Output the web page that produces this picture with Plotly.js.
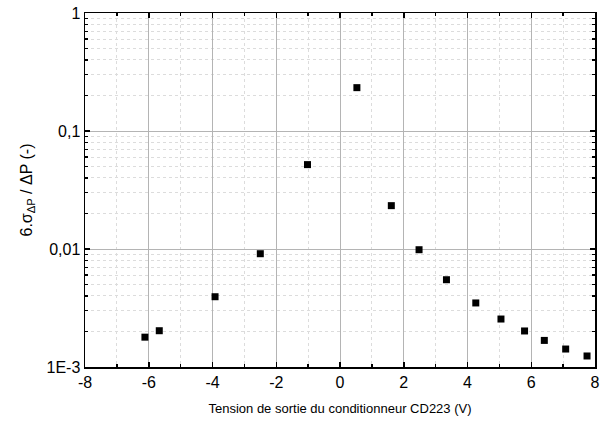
<!DOCTYPE html>
<html>
<head>
<meta charset="utf-8">
<script src="https://cdn.plot.ly/plotly-3.0.1.min.js"></script>
<style>html,body{margin:0;padding:0;background:#fff;}#chart{width:611px;height:428px;}</style>
</head>
<body>
<div id="chart"></div>
<script>
const tension = [-6.12, -5.67, -3.92, -2.50, -1.02, 0.53, 1.61, 2.48, 3.34, 4.26, 5.05, 5.79, 6.41, 7.08, 7.75];
const ratio = [0.00179, 0.00203, 0.00394, 0.00912, 0.0519, 0.233, 0.0233, 0.00986, 0.00549, 0.00349, 0.00255, 0.00202, 0.00168, 0.00142, 0.00124];
const yTickVals = [0.001, 0.01, 0.1, 1];
const yTickText = ["1E-3", "0,01", "0,1", "1"];
const xTickVals = [-8, -6, -4, -2, 0, 2, 4, 6, 8];
const xTickText = ["-8", "-6", "-4", "-2", "0", "2", "4", "6", "8"];

const font = "Liberation Sans, Arial, sans-serif";
const data = [{
  x: tension, y: ratio, type: 'scatter', mode: 'markers',
  marker: {symbol: 'square', size: 7, color: '#000'},
  showlegend: false
}];
const layout = {
  width: 611, height: 428,
  margin: {l: 85, r: 16, t: 13, b: 61},
  paper_bgcolor: '#fff', plot_bgcolor: '#fff',
  font: {family: font, color: '#000'},
  xaxis: {
    range: [-8, 8], tickmode: 'array', tickvals: xTickVals, ticktext: xTickText,
    ticks: 'inside', ticklen: 5, tickwidth: 1.5, tickcolor: '#000',
    showline: true, linecolor: '#000', linewidth: 1.5, mirror: 'ticks',
    showgrid: true, gridcolor: '#b4b4b4', gridwidth: 1,
    zeroline: false,
    tickfont: {size: 16, family: font},
    minor: {tickmode: 'linear', tick0: -8, dtick: 1, ticks: 'inside', ticklen: 3, tickcolor: '#000', showgrid: true, gridcolor: '#dcdcdc', griddash: 'dot', gridwidth: 1},
    title: {text: 'Tension de sortie du conditionneur CD223 (V)', font: {size: 13, family: font}, standoff: 14}
  },
  yaxis: {
    type: 'log', range: [-3, 0], tickmode: 'array', tickvals: yTickVals, ticktext: yTickText,
    ticks: 'inside', ticklen: 5, tickwidth: 1.5, tickcolor: '#000',
    showline: true, linecolor: '#000', linewidth: 1.5, mirror: 'ticks',
    showgrid: true, gridcolor: '#b4b4b4', gridwidth: 1,
    zeroline: false,
    tickfont: {size: 16, family: font},
    minor: {dtick: 'D1', ticks: 'inside', ticklen: 3, tickcolor: '#000', showgrid: true, gridcolor: '#dcdcdc', griddash: 'dot', gridwidth: 1},
    title: {text: '6.σ<sub>ΔP</sub> / ΔP (-)', font: {size: 16, family: font}, standoff: 10}
  }
};
Plotly.newPlot('chart', data, layout, {displayModeBar: false, staticPlot: true});
</script>
</body>
</html>
